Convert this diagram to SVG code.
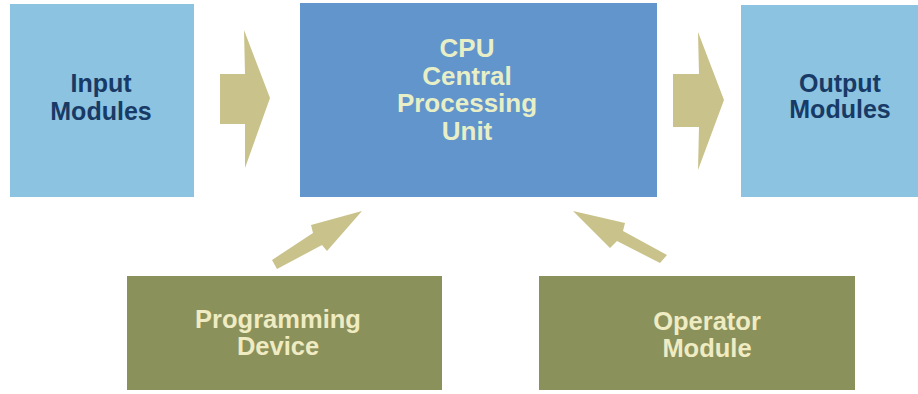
<svg xmlns="http://www.w3.org/2000/svg" width="918" height="394" viewBox="0 0 918 394">
<style>
.lb{fill:#8cc3e0}
.cpu{fill:#6195cc}
.ol{fill:#8b915a}
.arr{fill:#c9c28b}
text{font-family:"Liberation Sans",Arial,sans-serif;font-weight:bold;text-anchor:middle}
.dk{fill:#183a66;font-size:25px}
.lt{fill:#e8efc6;font-size:26px}
.ot{fill:#efebc2;font-size:25.5px}
</style>
<rect width="918" height="394" fill="#ffffff"/>
<g id="input">
<rect class="lb" x="10" y="4" width="184" height="193"/>
<text class="dk" x="101" y="92">Input</text>
<text class="dk" x="101" y="120">Modules</text>
</g>
<g id="cpu">
<rect class="cpu" x="300" y="3" width="357" height="194"/>
<text class="lt" x="467" y="57">CPU</text>
<text class="lt" x="467" y="85">Central</text>
<text class="lt" x="467" y="112">Processing</text>
<text class="lt" x="467" y="140">Unit</text>
</g>
<g id="output">
<rect class="lb" x="741" y="5" width="177" height="192"/>
<text class="dk" x="840" y="92">Output</text>
<text class="dk" x="840" y="118">Modules</text>
</g>
<g id="programming">
<rect class="ol" x="127" y="276" width="315" height="114"/>
<text class="ot" x="278" y="328">Programming</text>
<text class="ot" x="278" y="355">Device</text>
</g>
<g id="operator">
<rect class="ol" x="539" y="276" width="316" height="114"/>
<text class="ot" x="707" y="330">Operator</text>
<text class="ot" x="707" y="357">Module</text>
</g>
<g id="connectors">
<polygon class="arr" points="220,74 245,74 244,30 270,98 245,168 245,124 220,124"/>
<polygon class="arr" points="673,74 699,74 698,32 724,100 698,170 699,127 673,127"/>
<polygon class="arr" points="272,260 313,233 311,225 362,211 327,251 322,245 277,269"/>
<polygon class="arr" points="573,211 625,223 623,231 667,255 660,263 617,241 610,248"/>
</g>
</svg>
